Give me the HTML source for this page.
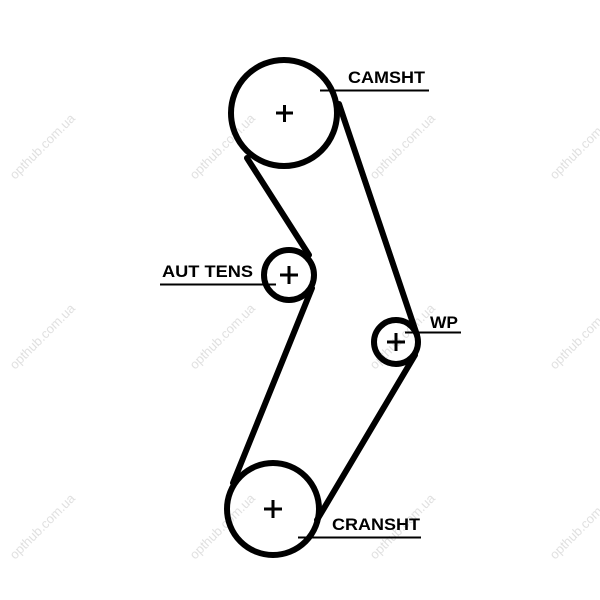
<!DOCTYPE html>
<html><head><style>
body{margin:0;background:#fff;}
svg{display:block}
text.l{font-family:"Liberation Sans",sans-serif;font-weight:bold;font-size:17px;fill:#000}
text.w{font-family:"Liberation Sans",sans-serif;font-size:13px;fill:#e0e0e0}
</style></head><body>
<svg width="600" height="600" viewBox="0 0 600 600" xmlns="http://www.w3.org/2000/svg">
<g>
<text class="w" transform="translate(15,180) rotate(-45)">opthub.com.ua</text>
<text class="w" transform="translate(195,180) rotate(-45)">opthub.com.ua</text>
<text class="w" transform="translate(375,180) rotate(-45)">opthub.com.ua</text>
<text class="w" transform="translate(555,180) rotate(-45)">opthub.com.ua</text>
<text class="w" transform="translate(15,370) rotate(-45)">opthub.com.ua</text>
<text class="w" transform="translate(195,370) rotate(-45)">opthub.com.ua</text>
<text class="w" transform="translate(375,370) rotate(-45)">opthub.com.ua</text>
<text class="w" transform="translate(555,370) rotate(-45)">opthub.com.ua</text>
<text class="w" transform="translate(15,560) rotate(-45)">opthub.com.ua</text>
<text class="w" transform="translate(195,560) rotate(-45)">opthub.com.ua</text>
<text class="w" transform="translate(375,560) rotate(-45)">opthub.com.ua</text>
<text class="w" transform="translate(555,560) rotate(-45)">opthub.com.ua</text>
</g>
<g fill="none" stroke="#000" stroke-width="6" stroke-linecap="round">
<circle cx="284" cy="113" r="53"/>
<circle cx="289" cy="275" r="25"/>
<circle cx="396" cy="342" r="22"/>
<circle cx="273" cy="509" r="46"/>
<line x1="247" y1="158" x2="309" y2="255"/>
<line x1="339" y1="104" x2="417" y2="335"/>
<line x1="312" y1="288" x2="233" y2="483"/>
<line x1="415" y1="355" x2="317" y2="520"/>
</g>
<g stroke="#000" stroke-width="3" fill="none">
<line x1="276" y1="113" x2="293" y2="113"/><line x1="284.5" y1="105" x2="284.5" y2="122"/>
<line x1="280" y1="275" x2="298" y2="275"/><line x1="289" y1="266" x2="289" y2="284"/>
<line x1="387" y1="342" x2="405" y2="342"/><line x1="396" y1="333" x2="396" y2="351"/>
<line x1="264" y1="509" x2="282" y2="509"/><line x1="273" y1="500" x2="273" y2="518"/>
</g>
<g stroke="#000" stroke-width="2" fill="none">
<line x1="320" y1="90.5" x2="429" y2="90.5"/>
<line x1="160" y1="284.5" x2="276" y2="284.5"/>
<line x1="405" y1="332.5" x2="461" y2="332.5"/>
<line x1="298" y1="537.5" x2="421" y2="537.5"/>
</g>
<text class="l" x="348" y="83" textLength="77" lengthAdjust="spacingAndGlyphs">CAMSHT</text>
<text class="l" x="162" y="277" textLength="91" lengthAdjust="spacingAndGlyphs">AUT TENS</text>
<text class="l" x="430" y="328" textLength="28" lengthAdjust="spacingAndGlyphs">WP</text>
<text class="l" x="332" y="530" textLength="88" lengthAdjust="spacingAndGlyphs">CRANSHT</text>
</svg>
</body></html>
